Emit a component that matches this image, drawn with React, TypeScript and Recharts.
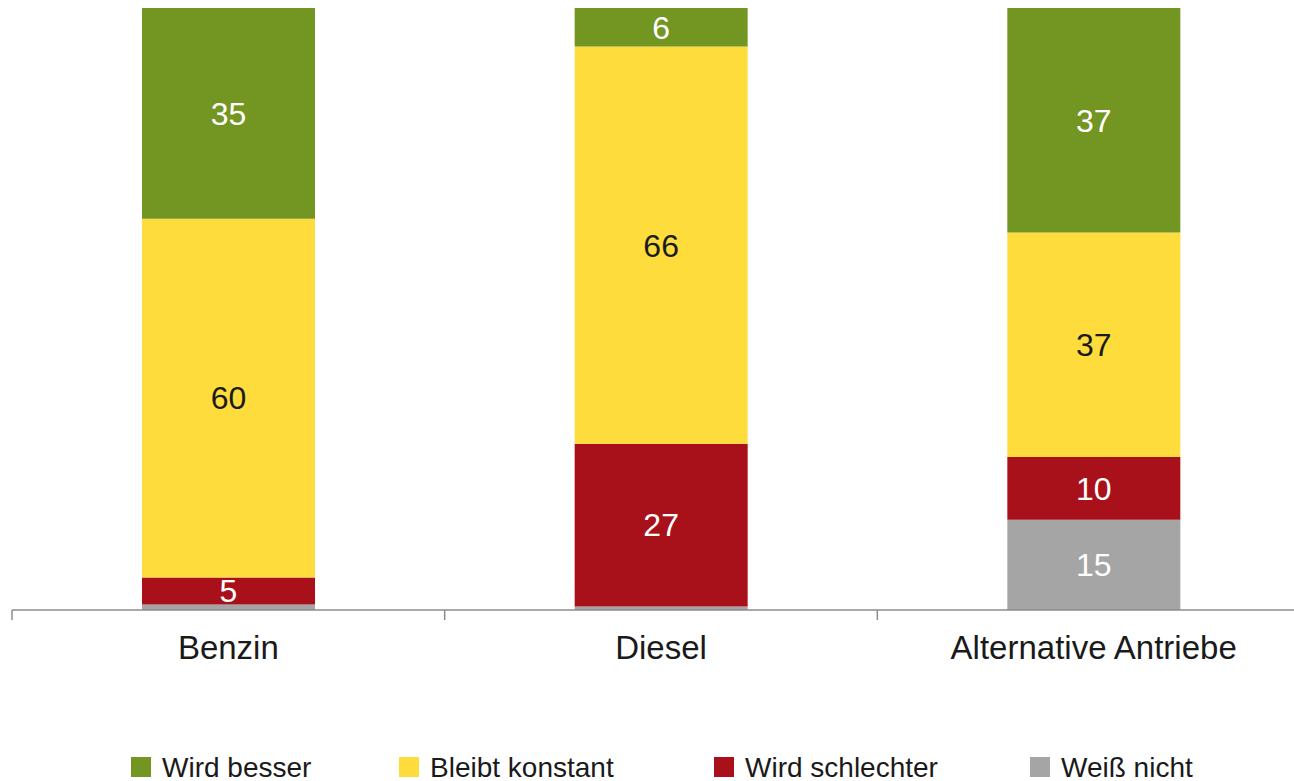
import React from 'react';
import { BarChart, Bar, XAxis, YAxis, Legend, LabelList } from 'recharts';

const categories = ['Benzin', 'Diesel', 'Alternative Antriebe'];
const wirdBesser = [35, 6.4, 37.3];
const bleibtKonstant = [59.6, 66, 37.3];
const wirdSchlechter = [4.5, 27, 10.4];
const weissNicht = [0.9, 0.6, 15];

const seriesNames = ['Wird besser', 'Bleibt konstant', 'Wird schlechter', 'Weiß nicht'];
const seriesColors = ['#739522', '#FEDC3C', '#A8111A', '#A5A5A5'];
const labelColors = ['#ffffff', '#1a1a1a', '#ffffff', '#ffffff'];

const data = categories.map((c, i) => ({
  name: c,
  besser: wirdBesser[i],
  konstant: bleibtKonstant[i],
  schlechter: wirdSchlechter[i],
  weiss: weissNicht[i],
}));

const FONT = '"Liberation Sans", Arial, sans-serif';

const CategoryTick = (props: any) => {
  const { x, y, payload, width, visibleTicksCount } = props;
  const band = width / (visibleTicksCount || 3);
  return (
    <g>
      <line x1={x - band / 2} y1={y} x2={x - band / 2} y2={y + 10} stroke="#8c8c8c" strokeWidth={1.5} />
      <text x={x} y={y + 49} textAnchor="middle" fontSize={33} fontFamily={FONT} fill="#1a1a1a">
        {payload.value}
      </text>
    </g>
  );
};

const legendX = [131, 399, 714, 1030];

const LegendContent = () => (
  <div style={{ width: 1294, height: 40 }}>
    <svg width={1294} height={40} style={{ display: 'block' }}>
      {seriesNames.map((n, i) => (
        <g key={n}>
          <rect x={legendX[i]} y={16} width={20} height={20} fill={seriesColors[i]} />
          <text x={legendX[i] + 31} y={35.7} fontSize={28} fontFamily={FONT} fill="#1a1a1a">
            {n}
          </text>
        </g>
      ))}
    </svg>
  </div>
);

const fmt = (v: any) => (Number(v) < 2 ? '' : Math.round(Number(v)));

export default function App() {
  return (
    <div style={{ position: 'absolute', left: 0, top: 0, width: 1294, height: 781, overflow: 'hidden', background: '#fff' }}>
      <BarChart
        width={1310}
        height={781}
        data={data}
        stackOffset="expand"
        margin={{ top: 8, left: 12, right: 0, bottom: 0 }}
        barSize={173}
      >
        <XAxis
          dataKey="name"
          height={131}
          axisLine={{ stroke: '#8c8c8c', strokeWidth: 1.5 }}
          tickLine={false}
          tickSize={0}
          tickMargin={0}
          tick={<CategoryTick />}
          interval={0}
        />
        <YAxis hide domain={[0, 1]} />
        <Legend
          verticalAlign="bottom"
          content={<LegendContent />}
          wrapperStyle={{ left: 0, top: 741, width: 1294, height: 40 }}
        />
        <Bar dataKey="weiss" stackId="a" fill={seriesColors[3]} isAnimationActive={false} name={seriesNames[3]}>
          <LabelList dataKey="weiss" position="center" fill={labelColors[3]} fontSize={32} fontFamily={FONT} formatter={fmt} />
        </Bar>
        <Bar dataKey="schlechter" stackId="a" fill={seriesColors[2]} isAnimationActive={false} name={seriesNames[2]}>
          <LabelList dataKey="schlechter" position="center" fill={labelColors[2]} fontSize={32} fontFamily={FONT} formatter={fmt} />
        </Bar>
        <Bar dataKey="konstant" stackId="a" fill={seriesColors[1]} isAnimationActive={false} name={seriesNames[1]}>
          <LabelList dataKey="konstant" position="center" fill={labelColors[1]} fontSize={32} fontFamily={FONT} formatter={fmt} />
        </Bar>
        <Bar dataKey="besser" stackId="a" fill={seriesColors[0]} isAnimationActive={false} name={seriesNames[0]}>
          <LabelList dataKey="besser" position="center" fill={labelColors[0]} fontSize={32} fontFamily={FONT} formatter={fmt} />
        </Bar>
      </BarChart>
    </div>
  );
}
